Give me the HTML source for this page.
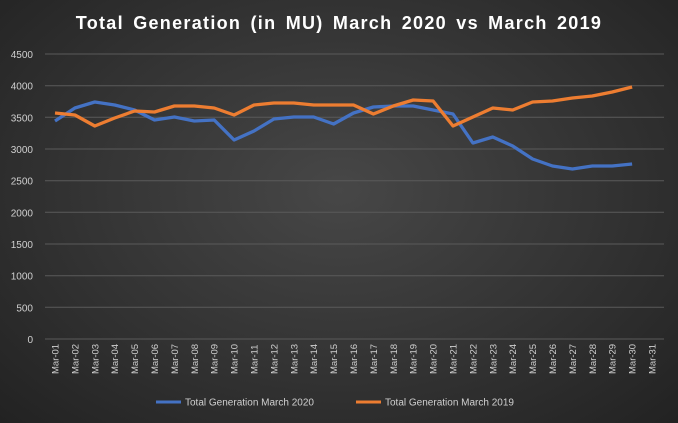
<!DOCTYPE html>
<html><head><style>
body{margin:0;width:678px;height:423px;overflow:hidden;background:radial-gradient(ellipse at 50% 45%,#474747 0%,#333 55%,#222 100%);font-family:"Liberation Sans",sans-serif;}
</style></head><body>
<svg width="678" height="423" xmlns="http://www.w3.org/2000/svg" style="position:absolute;left:0;top:0">
<text x="339" y="29" text-anchor="middle" fill="#fff" font-size="18" font-weight="bold" letter-spacing="1.3" word-spacing="3">Total Generation (in MU) March 2020 vs March 2019</text>
<g stroke="#5a5a5a" stroke-width="1">
<line x1="45" x2="664" y1="54" y2="54"/><line x1="45" x2="664" y1="85.7" y2="85.7"/><line x1="45" x2="664" y1="117.3" y2="117.3"/><line x1="45" x2="664" y1="149" y2="149"/><line x1="45" x2="664" y1="180.7" y2="180.7"/><line x1="45" x2="664" y1="212.3" y2="212.3"/><line x1="45" x2="664" y1="244" y2="244"/><line x1="45" x2="664" y1="275.7" y2="275.7"/><line x1="45" x2="664" y1="307.3" y2="307.3"/><line x1="45" x2="664" y1="339" y2="339"/>
</g>
<g fill="#d0d0d0" font-size="10" text-anchor="end">
<text x="33" y="58">4500</text><text x="33" y="89.7">4000</text><text x="33" y="121.3">3500</text><text x="33" y="153">3000</text><text x="33" y="184.7">2500</text><text x="33" y="216.3">2000</text><text x="33" y="248">1500</text><text x="33" y="279.7">1000</text><text x="33" y="311.3">500</text><text x="33" y="343">0</text>
</g>
<g id="xl" fill="#d0d0d0" font-size="9.5"></g>
<polyline id="b" fill="none" stroke="#4472c4" stroke-width="3.3" stroke-linejoin="round"/>
<polyline id="o" fill="none" stroke="#ed7d31" stroke-width="3.3" stroke-linejoin="round"/>
<line x1="156" x2="181" y1="402" y2="402" stroke="#4472c4" stroke-width="3"/>
<text x="185" y="405.5" fill="#d0d0d0" font-size="10">Total Generation March 2020</text>
<line x1="356" x2="381" y1="402" y2="402" stroke="#ed7d31" stroke-width="3"/>
<text x="385" y="405.5" fill="#d0d0d0" font-size="10">Total Generation March 2019</text>
</svg>
<script>
var B=[121,108,102,105,110,120,117,121,120,140,131,119,117,117,124,113,107,106,106,110,114,143,137,146,159,166,169,166,166,164];
var O=[113,115,126,118,111,112,106,106,108,115,105,103,103,105,105,105,114,106,100,101,126,117,108,110,102,101,98,96,92,87];
function X(i){return 55+i*19.9;}
document.getElementById('b').setAttribute('points',B.map((y,i)=>X(i)+','+y).join(' '));
document.getElementById('o').setAttribute('points',O.map((y,i)=>X(i)+','+y).join(' '));
var g=document.getElementById('xl'),s='';
for(var i=0;i<31;i++){var d=(i+1<10?'0':'')+(i+1);var x=X(i)+3.5;s+='<text transform="translate('+x+',374) rotate(-90)">Mar-'+d+'</text>';}
g.innerHTML=s;
</script>
</body></html>
